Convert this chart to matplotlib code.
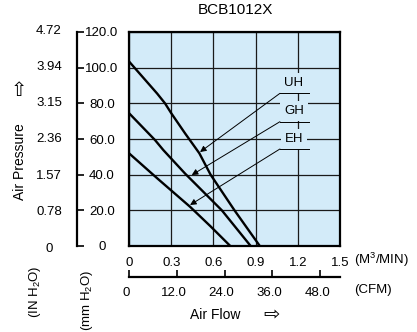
import matplotlib
matplotlib.use("Agg")
import matplotlib.pyplot as plt
import matplotlib.transforms as mtransforms

plt.rcParams['font.family'] = ['Liberation Sans', 'DejaVu Sans']
plt.rcParams['mathtext.fontset'] = 'custom'
plt.rcParams['mathtext.rm'] = 'Liberation Sans'
plt.rcParams['mathtext.default'] = 'rm'

# datos de las curvas (M3/MIN vs mm H2O)
uh_x = [0, 0.1, 0.2, 0.256, 0.3, 0.4, 0.5, 0.54, 0.58, 0.75, 0.93]
uh_y = [103.5, 94.5, 85.5, 80, 74.5, 63, 52, 46, 40, 20, 0]
gh_x = [0, 0.185, 0.244, 0.40, 0.47, 0.66, 0.865]
gh_y = [74.5, 59.4, 53.8, 40.5, 35, 20, 0]
eh_x = [0, 0.2, 0.434, 0.58, 0.72]
eh_y = [52, 38, 22, 11, 0]

x_ticks = [0, 0.3, 0.6, 0.9, 1.2, 1.5]
x_labels = ['0', '0.3', '0.6', '0.9', '1.2', '1.5']
mm_ticks = [0, 20, 40, 60, 80, 100, 120]
mm_labels = ['0', '20.0', '40.0', '60.0', '80.0', '100.0', '120.0']
in_ticks = [0, 0.78, 1.57, 2.36, 3.15, 3.94, 4.72]
in_labels = ['0', '0.78', '1.57', '2.36', '3.15', '3.94', '4.72']
cfm_ticks = [0, 12, 24, 36, 48]
cfm_labels = ['0', '12.0', '24.0', '36.0', '48.0']

# etiquetas: nombre, texto (x, y), subrayado y, punta de flecha (x, y)
names = ['UH', 'GH', 'EH']
label_y = [91.4, 75.9, 60.2]
line_y = [85.6, 69.7, 54.4]
tip_x = [0.505, 0.446, 0.434]
tip_y = [52.7, 39.8, 23.0]

W, H = 417, 332
bg = '#d3ebf9'

fig = plt.figure(figsize=(W / 100, H / 100), dpi=100)


def fx(px):
    return px / W


def fy(py):
    return 1 - py / H


# grafico principal
ax = fig.add_axes([fx(129), fy(246), fx(340) - fx(129), fy(32) - fy(246)])
ax.set_facecolor(bg)
ax.set_xlim(0, 1.5)
ax.set_ylim(0, 120)
ax.set_xticks(x_ticks)
ax.set_xticklabels(x_labels)
ax.set_yticks(mm_ticks)
ax.grid(color='#1a1a1a', lw=0.9, zorder=1)
ax.set_axisbelow(True)
ax.tick_params(length=0, labelleft=False, labelsize=9.5, pad=8)
for s in ax.spines.values():
    s.set_linewidth(1.6)
    s.set_zorder(5)

for xs, ys in [(uh_x, uh_y), (gh_x, gh_y), (eh_x, eh_y)]:
    ax.plot(xs, ys, color='black', lw=1.7, zorder=3, solid_capstyle='butt')

for n, ly, uy, tx, ty in zip(names, label_y, line_y, tip_x, tip_y):
    ax.text(1.173, ly, n, ha='center', va='center', fontsize=9.5, zorder=4,
            bbox=dict(boxstyle='square,pad=0.3', fc=bg, ec='none'))
    ax.plot([1.073, 1.283], [uy, uy], color='black', lw=0.7, zorder=4)
    ax.annotate('', xy=(tx, ty), xytext=(1.073, uy), zorder=4,
                arrowprops=dict(arrowstyle='-|>', lw=0.7, color='black',
                                mutation_scale=9, shrinkA=0, shrinkB=0))

# eje mm H2O
ax_mm = fig.add_axes([fx(77), fy(246), 0.0001, fy(32) - fy(246)])
ax_mm.set_ylim(0, 120)
ax_mm.set_yticks(mm_ticks)
ax_mm.set_yticklabels(mm_labels)
ax_mm.set_xticks([])
for k in ['top', 'right', 'bottom']:
    ax_mm.spines[k].set_visible(False)
ax_mm.spines['left'].set_linewidth(1.6)
ax_mm.tick_params(axis='y', direction='in', length=5, width=1.2, left=True,
                  right=False, labelleft=False, labelright=True, pad=18,
                  labelsize=9.5)
for lbl in ax_mm.get_yticklabels():
    lbl.set_horizontalalignment('center')
ax_mm.patch.set_visible(False)

# eje IN H2O
ax_in = fig.add_axes([fx(49), fy(247), 0.0001, fy(29) - fy(247)])
ax_in.set_ylim(0, 4.72)
ax_in.set_yticks(in_ticks)
ax_in.set_yticklabels(in_labels)
ax_in.set_xticks([])
for s in ax_in.spines.values():
    s.set_visible(False)
ax_in.tick_params(axis='y', length=0, pad=0, labelsize=9.5)
for lbl in ax_in.get_yticklabels():
    lbl.set_horizontalalignment('center')
ax_in.patch.set_visible(False)

# eje CFM
ax_cfm = fig.add_axes([fx(129), fy(277), fx(340) - fx(129), 0.0001])
ax_cfm.set_xlim(0, 1.5 / 0.02832)
ax_cfm.set_xticks(cfm_ticks)
ax_cfm.set_xticklabels(cfm_labels)
ax_cfm.set_yticks([])
for k in ['top', 'right', 'left']:
    ax_cfm.spines[k].set_visible(False)
ax_cfm.spines['bottom'].set_linewidth(1.6)
ax_cfm.tick_params(axis='x', direction='in', length=5, width=1.2, pad=7,
                   labelsize=9.5)
offset = mtransforms.ScaledTranslation(-3 / 100, 0, fig.dpi_scale_trans)
for lbl in ax_cfm.get_xticklabels():
    lbl.set_transform(lbl.get_transform() + offset)
ax_cfm.patch.set_visible(False)

# textos
fig.text(fx(235), fy(10), 'BCB1012X', ha='center', va='center', fontsize=11)
fig.text(fx(381), fy(260), '(M$^3$/MIN)', ha='center', va='center', fontsize=9.5)
fig.text(fx(373), fy(290), '(CFM)', ha='center', va='center', fontsize=9.5)
fig.text(fx(215), fy(315), 'Air Flow', ha='center', va='center', fontsize=10)
fig.text(fx(272), fy(315), '⇨', ha='center', va='center', fontsize=14,
         family=['DejaVu Sans'])
fig.text(fx(20), fy(162), 'Air Pressure', ha='center', va='center',
         rotation=90, fontsize=10)
fig.text(fx(19), fy(90), '⇧', ha='center', va='center', fontsize=14,
         family=['DejaVu Sans'])
fig.text(fx(35), fy(292), '(IN H$_2$O)', ha='center', va='center',
         rotation=90, fontsize=9.5)
fig.text(fx(87), fy(300), '(mm H$_2$O)', ha='center', va='center',
         rotation=90, fontsize=9.5)

fig.savefig('out.png', dpi=100)
